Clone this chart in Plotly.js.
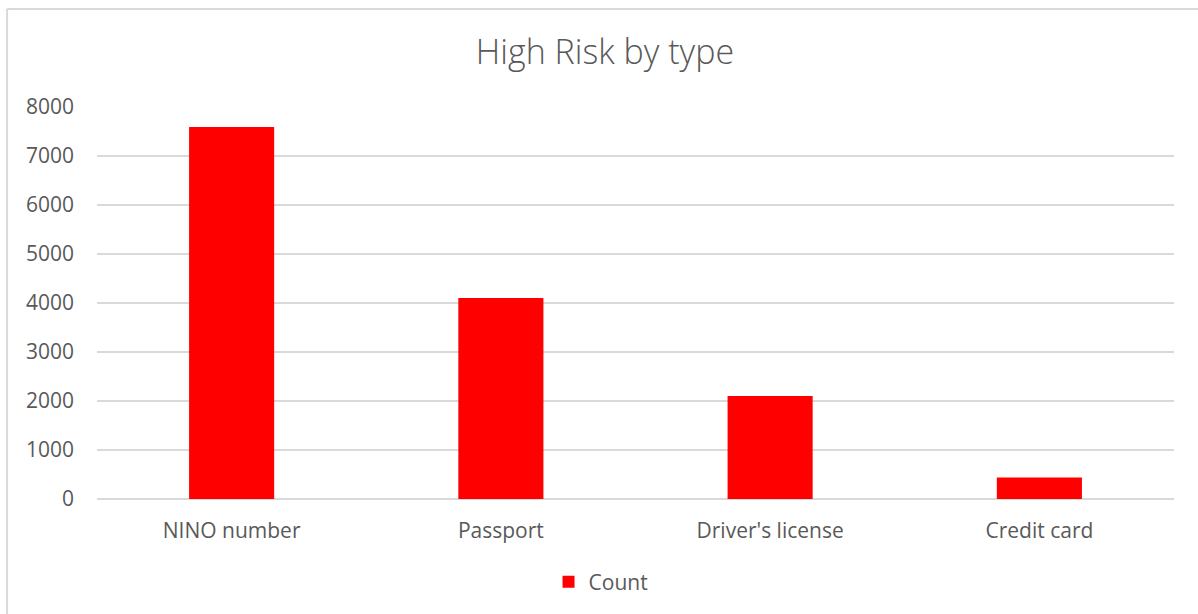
<!DOCTYPE html>
<html>
<head>
<meta charset="utf-8">
<script src="https://cdn.plot.ly/plotly-3.0.1.min.js"></script>
<style>
  html, body { margin: 0; padding: 0; background: #ffffff; }
  #chart { width: 1198px; height: 614px; }
</style>
</head>
<body>
<div id="chart"></div>
<script>
// High-risk findings grouped by document type
const categories = ["NINO number", "Passport", "Driver's license", "Credit card"];
const counts = [7590, 4100, 2100, 440];
const seriesName = "Count";
const yTicks = [0, 1000, 2000, 3000, 4000, 5000, 6000, 7000, 8000];

const textColor = "#595959";
const gridColor = "#d9d9d9";
const fontFamily = "'Open Sans', 'Noto Sans', sans-serif";

const trace = {
  type: "bar",
  x: categories,
  y: counts,
  name: seriesName,
  marker: { color: "#ff0000" },
  hoverinfo: "x+y"
};

const layout = {
  width: 1198,
  height: 614,
  margin: { l: 97, r: 24, t: 107, b: 115 },
  paper_bgcolor: "#ffffff",
  plot_bgcolor: "#ffffff",
  font: { family: fontFamily, color: textColor, size: 21 },
  title: {
    text: "High Risk by type",
    font: { family: fontFamily, size: 34, color: textColor, weight: 300 },
    x: 0.505,
    xanchor: "center",
    y: 0.915,
    yanchor: "middle"
  },
  bargap: 0.684,
  showlegend: true,
  legend: {
    orientation: "h",
    x: 0.468,
    xanchor: "center",
    y: -0.212,
    yanchor: "middle",
    font: { family: fontFamily, size: 21, color: textColor },
    itemwidth: 30
  },
  xaxis: {
    type: "category",
    showgrid: false,
    showline: false,
    zeroline: false,
    ticks: "",
    ticklabelstandoff: 17,
    tickfont: { family: fontFamily, size: 21, color: textColor }
  },
  yaxis: {
    range: [0, 8000],
    tickvals: yTicks,
    ticktext: yTicks.map(String),
    showgrid: true,
    gridcolor: gridColor,
    gridwidth: 1.5,
    zeroline: true,
    zerolinecolor: gridColor,
    zerolinewidth: 1.5,
    showline: false,
    ticks: "",
    ticklabelstandoff: 22,
    tickfont: { family: fontFamily, size: 21, color: textColor }
  },
  shapes: [
    { type: "line", xref: "paper", yref: "paper", x0: -0.0835, x1: 1.03, y0: 1.25, y1: 1.25,
      line: { color: gridColor, width: 2 } },
    { type: "line", xref: "paper", yref: "paper", x0: -0.0835, x1: -0.0835, y0: 1.25, y1: -0.3,
      line: { color: gridColor, width: 2 } }
  ]
};

Plotly.newPlot("chart", [trace], layout, { displayModeBar: false, staticPlot: true });
</script>
</body>
</html>
